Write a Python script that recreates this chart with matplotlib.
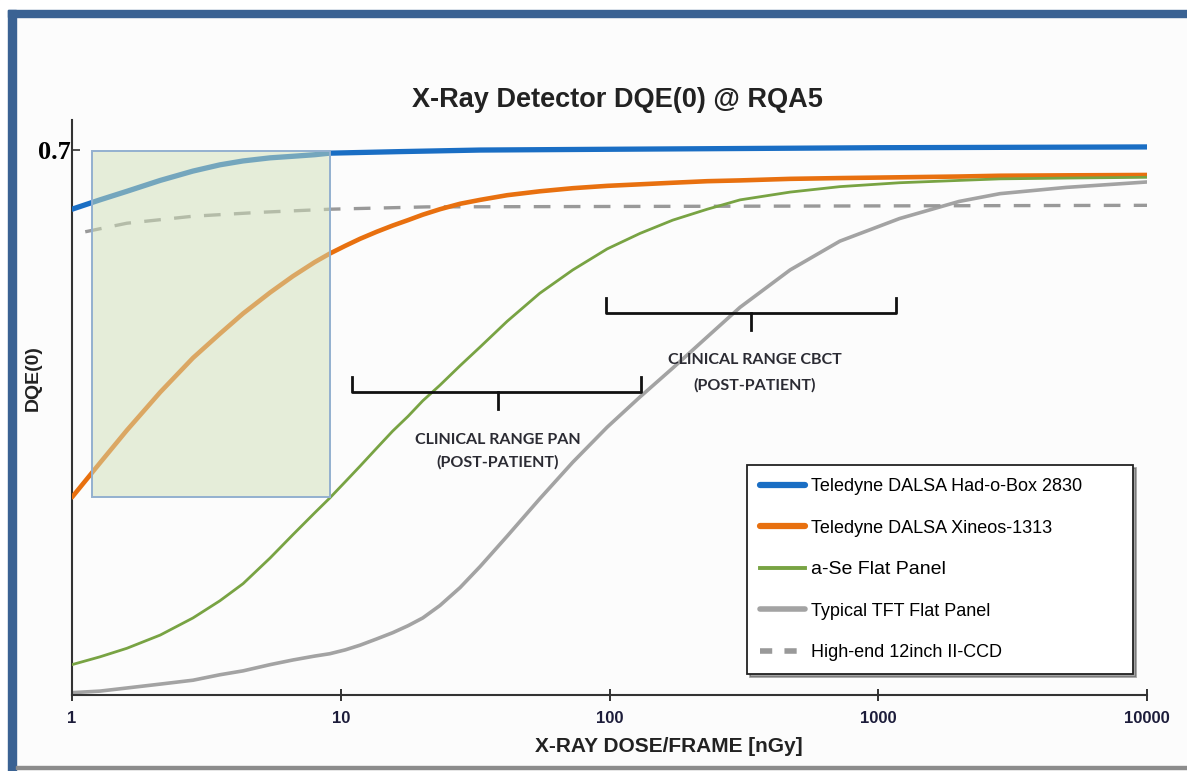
import numpy as np
import matplotlib.pyplot as plt
from matplotlib.patches import Rectangle
from matplotlib.lines import Line2D

# curves (dose in nGy, DQE(0))
dose_grid = [1, 1.27, 1.6, 2.13, 2.82, 3.55, 4.33, 5.46, 6.64, 8.0, 9.1, 10.4, 11.8,
             13.6, 15.6, 17.8, 20.2, 23.4, 27.8, 33, 41.6, 55, 73, 98, 130, 172, 231,
             306, 470, 720, 1200, 2000, 2840, 5000, 10000]

dqe_orange = [0.254, 0.298, 0.340, 0.389, 0.433, 0.464, 0.490, 0.517, 0.538, 0.556,
              0.567, 0.577, 0.586, 0.595, 0.603, 0.610, 0.617, 0.624, 0.631, 0.636,
              0.642, 0.647, 0.651, 0.654, 0.656, 0.658, 0.660, 0.661, 0.663, 0.664,
              0.665, 0.666, 0.667, 0.6675, 0.668]

dqe_green = [0.039, 0.049, 0.060, 0.077, 0.099, 0.121, 0.143, 0.176, 0.206, 0.234,
             0.253, 0.274, 0.294, 0.317, 0.339, 0.358, 0.378, 0.398, 0.423, 0.447,
             0.480, 0.516, 0.546, 0.573, 0.593, 0.610, 0.624, 0.636, 0.646, 0.653,
             0.658, 0.661, 0.663, 0.664, 0.665]

dqe_gray = [0.003, 0.005, 0.009, 0.014, 0.019, 0.026, 0.031, 0.039, 0.045, 0.050,
            0.053, 0.058, 0.064, 0.072, 0.080, 0.089, 0.099, 0.115, 0.138, 0.165,
            0.204, 0.252, 0.299, 0.344, 0.383, 0.420, 0.460, 0.498, 0.546, 0.583,
            0.612, 0.634, 0.644, 0.652, 0.659]

dose_blue = [1, 1.27, 1.6, 2.13, 2.82, 3.55, 4.33, 5.46, 6.64, 8.0, 9.1, 16.6, 33, 100,
             1000, 10000]
dqe_blue = [0.624, 0.636, 0.647, 0.661, 0.673, 0.681, 0.686, 0.690, 0.692, 0.694,
            0.696, 0.698, 0.700, 0.701, 0.703, 0.704]

dose_ccd = [1.12, 1.6, 2.82, 5.0, 9.1, 20.9, 10000]
dqe_ccd = [0.595, 0.606, 0.615, 0.620, 0.624, 0.627, 0.629]

labels = ["Teledyne DALSA Had-o-Box 2830", "Teledyne DALSA Xineos-1313",
          "a-Se Flat Panel", "Typical TFT Flat Panel", "High-end 12inch II-CCD"]

# highlighted region
box_x = [1.19, 9.1]
box_y = [0.254, 0.699]

# clinical range brackets: left, right, centre, level
pan = [11, 131, 38.5, 0.389]
cbct = [97, 1165, 335, 0.491]

plt.rcParams['font.family'] = ['Liberation Sans', 'DejaVu Sans']

fig = plt.figure(figsize=(11.87, 7.71), dpi=100, facecolor='#fcfcfc')
ax = fig.add_axes([72/1187, 1-695/771, (1147-72)/1187, (695-120)/771])
ax.set_facecolor('none')

ax.plot(dose_blue, dqe_blue, color='#1a6ec4', lw=3.8, solid_capstyle='round', zorder=3)
ax.plot(dose_grid, dqe_gray, color='#a3a3a3', lw=2.6, solid_capstyle='round', zorder=2)
ax.plot(dose_ccd, dqe_ccd, color='#999999', lw=2.4, dashes=(5, 4), zorder=2)
ax.plot(dose_grid, dqe_orange, color='#e8700f', lw=3.3, solid_capstyle='round', zorder=3)
ax.plot(dose_grid, dqe_green, color='#78a343', lw=2.0, zorder=3)

ax.add_patch(Rectangle((box_x[0], box_y[0]), box_x[1]-box_x[0], box_y[1]-box_y[0],
                       facecolor='#cfdfb8', alpha=0.5, edgecolor='none', zorder=5))
ax.add_patch(Rectangle((box_x[0], box_y[0]), box_x[1]-box_x[0], box_y[1]-box_y[0],
                       facecolor='none', edgecolor='#93b0cf', lw=1.4, zorder=6))

for b in [pan, cbct]:
    x0, x1, xc, yv = b
    ax.plot([x0, x0, x1, x1], [yv+0.019, yv, yv, yv+0.019], color='#111111', lw=2.0,
            zorder=7)
    ax.plot([xc, xc], [yv, yv-0.022], color='#111111', lw=2.0, zorder=7)

note = dict(ha='center', va='center', fontsize=11.5, family='Lato', weight='bold',
            color='#2b2b33', zorder=8)
ax.text(38.5, 0.3275, "CLINICAL RANGE PAN", **note)
ax.text(38.5, 0.299, "(POST-PATIENT)", **note)
ax.text(348, 0.430, "CLINICAL RANGE CBCT", **note)
ax.text(348, 0.398, "(POST-PATIENT)", **note)

ax.set_xscale('log')
ax.set_xlim(1, 10000)
ax.set_ylim(0, 0.7386)
ax.set_xticks([1, 10, 100, 1000, 10000])
ax.set_xticklabels(['1', '10', '100', '1000', '10000'])
ax.minorticks_off()
ax.set_yticks([0.7])
ax.set_yticklabels(['0.7'])
for lab in ax.get_xticklabels():
    lab.set_fontweight('bold')
    lab.set_fontsize(12)
for lab in ax.get_yticklabels():
    lab.set_family('Liberation Serif')
    lab.set_fontweight('bold')
    lab.set_fontsize(19)
ax.tick_params(axis='x', direction='inout', length=9, width=1.4, pad=7, colors='#333333',
               labelcolor='#1c1c3a')
ax.tick_params(axis='y', direction='in', length=6, width=1.2, pad=1, colors='#333333',
               labelcolor='black')
for s in ['top', 'right']:
    ax.spines[s].set_visible(False)
for s in ['left', 'bottom']:
    ax.spines[s].set_color('#333333')
    ax.spines[s].set_linewidth(1.5)

fig.text(617/1187, 1-100/771, "X-Ray Detector DQE(0) @ RQA5", ha='center', va='center',
         fontsize=19.5, weight='bold', color='#222222')
fig.text(669/1187, 1-747/771, "X-RAY DOSE/FRAME [nGy]", ha='center', va='center',
         fontsize=15, weight='bold', color='#222222')
fig.text(33/1187, 1-378/771, "DQE(0)", ha='center', va='center', rotation=90,
         fontsize=14, weight='bold', color='#222222')

handles = [Line2D([], [], color='#1a6ec4', lw=4.5, solid_capstyle='round'),
           Line2D([], [], color='#e8700f', lw=4.5, solid_capstyle='round'),
           Line2D([], [], color='#78a343', lw=2.8),
           Line2D([], [], color='#a3a3a3', lw=4.0, solid_capstyle='round'),
           Line2D([], [], color='#999999', lw=4.0, dashes=(2.2, 2.2))]
leg = fig.legend(handles, labels, loc='upper left',
                 bbox_to_anchor=(747/1187, 1-673/771, 386/1187, (673-465)/771),
                 mode='expand', borderaxespad=0, fontsize=13, labelspacing=1.36,
                 handlelength=2.5, handletextpad=0.35, borderpad=0.72, fancybox=False,
                 shadow=True, framealpha=1, edgecolor='#222222')
leg.get_frame().set_linewidth(1.3)
leg.texts[2].set_fontsize(14)

# picture frame
fig.add_artist(Rectangle((0, 0), 8/1187, 1, transform=fig.transFigure, color='white'))
fig.add_artist(Rectangle((0, 1-10/771), 1, 10/771, transform=fig.transFigure,
                         color='white'))
fig.add_artist(Rectangle((8/1187, 0), 8/1187, 1-10/771, transform=fig.transFigure,
                         color='#3a6293'))
fig.add_artist(Rectangle((8/1187, 1-17/771), 1, 7/771, transform=fig.transFigure,
                         color='#3a6293'))
fig.add_artist(Rectangle((16/1187, 1-769/771), 1, 3/771, transform=fig.transFigure,
                         color='#8c8c8c'))

fig.savefig('out.png', dpi=100, facecolor=fig.get_facecolor())
